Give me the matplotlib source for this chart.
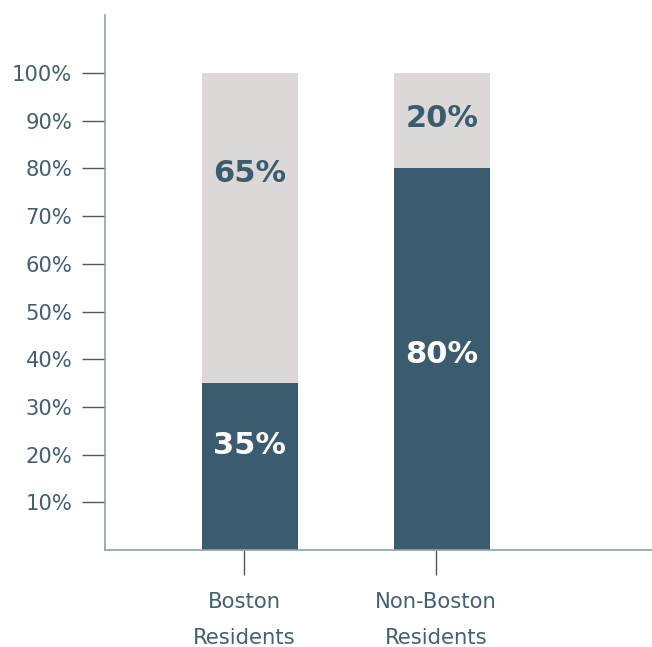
import matplotlib.pyplot as plt
import numpy as np

groups = ["Boston\nResidents", "Non-Boston\nResidents"]
share_bottom = [35, 80]
share_top = [65, 20]
# where the printed percentages sit on the y scale
label_y_bottom = [22, 41]
label_y_top = [79, 90.5]
yticks = [10, 20, 30, 40, 50, 60, 70, 80, 90, 100]

dark = "#3b5b6e"
light = "#dcd8d8"
text_col = "#416074"

fig = plt.figure(figsize=(6.52, 6.47), dpi=100)
ax = fig.add_axes([0.161, 0.15, 0.839, 0.827])

x = np.arange(len(groups))
ax.bar(x, share_bottom, width=0.5, color=dark, zorder=2)
ax.bar(x, share_top, width=0.5, bottom=share_bottom, color=light, zorder=2)

for i in range(len(groups)):
    ax.text(x[i], label_y_bottom[i], f"{share_bottom[i]}%", ha="center", va="center",
            color="white", fontsize=22, fontweight="bold", family="DejaVu Sans")
    ax.text(x[i], label_y_top[i], f"{share_top[i]}%", ha="center", va="center",
            color=dark, fontsize=22, fontweight="bold", family="DejaVu Sans")

ax.set_xlim(-0.755, 2.094)
ax.set_ylim(0, 112.2)
ax.set_yticks(yticks)
ax.set_yticklabels([f"{v}%" for v in yticks])
ax.set_xticks(x - 0.03)
ax.set_xticklabels(groups, linespacing=2.0)

for s in ["top", "right"]:
    ax.spines[s].set_visible(False)
for s in ["left", "bottom"]:
    ax.spines[s].set_color("#8fa1ae")
    ax.spines[s].set_linewidth(1.2)

ax.tick_params(axis="y", length=16.5, width=1, color="#555555", pad=7,
               labelsize=15.2, labelcolor=text_col)
ax.tick_params(axis="x", length=18, width=1, color="#555555", pad=12,
               labelsize=15.2, labelcolor=text_col)

fig.savefig("out.png", dpi=100)
